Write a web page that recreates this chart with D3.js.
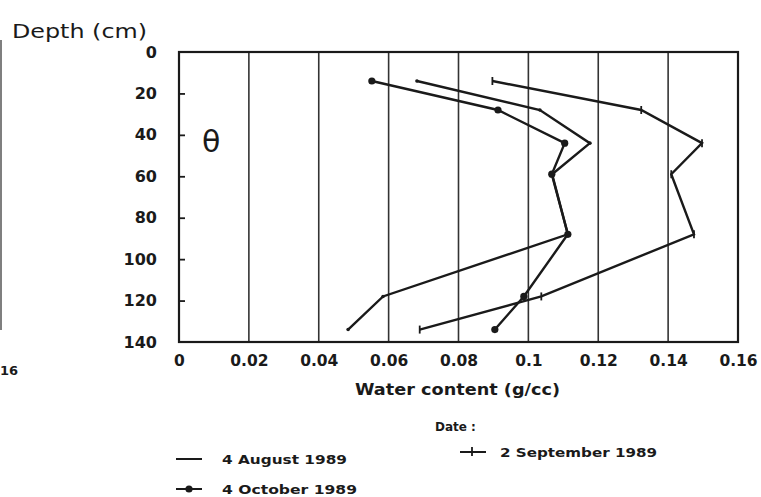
<!DOCTYPE html>
<html><head><meta charset="utf-8">
<script src="https://cdn.jsdelivr.net/npm/d3@7/dist/d3.min.js"></script>
<style>
body{margin:0;background:#fff;}
svg{display:block;font-family:"DejaVu Sans",sans-serif;}
</style></head>
<body><svg id="c" width="761" height="497"></svg>
<script>
const depths = [14, 28, 44, 59, 88, 118, 134];
const aug = [0.0681, 0.1033, 0.1176, 0.1068, 0.1113, 0.0584, 0.0484];
const sep = [0.0897, 0.1323, 0.1497, 0.1409, 0.1474, 0.1037, 0.0689];
const oct = [0.0552, 0.0913, 0.1104, 0.1067, 0.1113, 0.0987, 0.0904];
const xTicks = [0, 0.02, 0.04, 0.06, 0.08, 0.1, 0.12, 0.14, 0.16];
const xTickLabels = ["0","0.02","0.04","0.06","0.08","0.1","0.12","0.14","0.16"];
const yTicks = [0, 20, 40, 60, 80, 100, 120, 140];
const seriesNames = ["4 August 1989", "2 September 1989", "4 October 1989"];

const svg = d3.select("#c");
const x = d3.scaleLinear().domain([0, 0.16]).range([179, 738]);
const y = d3.scaleLinear().domain([0, 140]).range([52, 342]);
const ink = "#1a1a1a";
const FF = "DejaVu Sans, sans-serif";

// remnant of neighbouring panel
svg.append("line").attr("x1",1).attr("x2",1).attr("y1",40).attr("y2",330)
  .attr("stroke","#555").attr("stroke-width",1.5);
svg.append("text").attr("x",0).attr("y",375).attr("font-size",13).attr("font-weight","bold")
  .attr("fill",ink).text("16");

// gridlines
svg.append("g").selectAll("line").data(xTicks.slice(1, -1)).join("line")
  .attr("x1", d => x(d)).attr("x2", d => x(d)).attr("y1", y(0)).attr("y2", y(140))
  .attr("stroke", "#333").attr("stroke-width", 1.6);

// frame
svg.append("rect").attr("x", x(0)).attr("y", y(0)).attr("width", x(0.16)-x(0)).attr("height", y(140)-y(0))
  .attr("fill","none").attr("stroke", ink).attr("stroke-width", 2.2);

// y axis
const yAx = svg.append("g").attr("transform", `translate(${x(0)},0)`)
  .call(d3.axisLeft(y).tickValues(yTicks).tickSize(-6).tickPadding(22));
yAx.select(".domain").remove();
yAx.selectAll("line").attr("stroke", ink).attr("stroke-width", 1.8);
yAx.selectAll("text").attr("font-size", 16).attr("font-weight","bold").attr("fill", ink)
  .attr("font-family", FF);
yAx.selectAll(".tick").filter(d => d === 0 || d === 140).select("line").remove();

// x axis labels
const xAx = svg.append("g").attr("transform", `translate(0,${y(140)})`)
  .call(d3.axisBottom(x).tickValues(xTicks).tickSize(0).tickPadding(13)
    .tickFormat((d, i) => xTickLabels[i]));
xAx.select(".domain").remove();
xAx.selectAll("text").attr("font-size", 15.5).attr("font-weight","bold").attr("fill", ink)
  .attr("font-family", FF);

svg.append("text").attr("x", 355).attr("y", 395)
  .attr("font-size", 16).attr("font-weight","bold").attr("fill", ink)
  .attr("textLength", 205).attr("lengthAdjust", "spacingAndGlyphs").text("Water content (g/cc)");
svg.append("text").attr("x", 12).attr("y", 38).attr("font-size", 19.5).attr("fill", ink)
  .attr("textLength", 135).attr("lengthAdjust", "spacingAndGlyphs").text("Depth (cm)");
svg.append("text").attr("x", 202).attr("y", 152).attr("font-size", 30).attr("fill", ink).text("θ");

const line = d3.line().x(d => x(d[0])).y(d => y(d[1]));
const all = [aug, sep, oct].map(s => s.map((v, i) => [v, depths[i]]));

all.forEach(pts => {
  svg.append("path").datum(pts).attr("d", line).attr("fill","none")
    .attr("stroke", ink).attr("stroke-width", 2.4).attr("stroke-linejoin","miter");
});
// Aug end dots
svg.append("g").selectAll("circle").data(all[0]).join("circle")
  .attr("cx", d => x(d[0])).attr("cy", d => y(d[1])).attr("r", 1.8).attr("fill", ink);
// Sep tick markers
svg.append("g").selectAll("line").data(all[1]).join("line")
  .attr("x1", d => x(d[0])).attr("x2", d => x(d[0]))
  .attr("y1", d => y(d[1]) - 4).attr("y2", d => y(d[1]) + 4)
  .attr("stroke", ink).attr("stroke-width", 1.8);
// Oct filled dots
svg.append("g").selectAll("circle").data(all[2]).join("circle")
  .attr("cx", d => x(d[0])).attr("cy", d => y(d[1])).attr("r", 3.6).attr("fill", ink);

// legend
svg.append("text").attr("x", 435).attr("y", 431).attr("font-size", 12).attr("font-weight","bold")
  .attr("fill", ink).text("Date :");
const leg = [
  {name: seriesNames[0], lx: 176, ly: 459, tx: 222, w: 125, mark: "none"},
  {name: seriesNames[1], lx: 460, ly: 452, tx: 500, w: 157, mark: "tick"},
  {name: seriesNames[2], lx: 176, ly: 489, tx: 222, w: 135, mark: "dot"}
];
leg.forEach(l => {
  const g = svg.append("g");
  g.append("line").attr("x1", l.lx).attr("x2", l.lx + 26).attr("y1", l.ly).attr("y2", l.ly)
    .attr("stroke", ink).attr("stroke-width", 2);
  if (l.mark === "tick") g.append("line").attr("x1", l.lx+12).attr("x2", l.lx+12)
    .attr("y1", l.ly-5).attr("y2", l.ly+4).attr("stroke", ink).attr("stroke-width", 1.8);
  if (l.mark === "dot") g.append("circle").attr("cx", l.lx+13).attr("cy", l.ly).attr("r", 3.6).attr("fill", ink);
  g.append("text").attr("x", l.tx).attr("y", l.ly + 5).attr("font-size", 12.5).attr("font-weight","bold")
    .attr("textLength", l.w).attr("lengthAdjust", "spacingAndGlyphs").attr("fill", ink).text(l.name);
});
</script></body></html>
